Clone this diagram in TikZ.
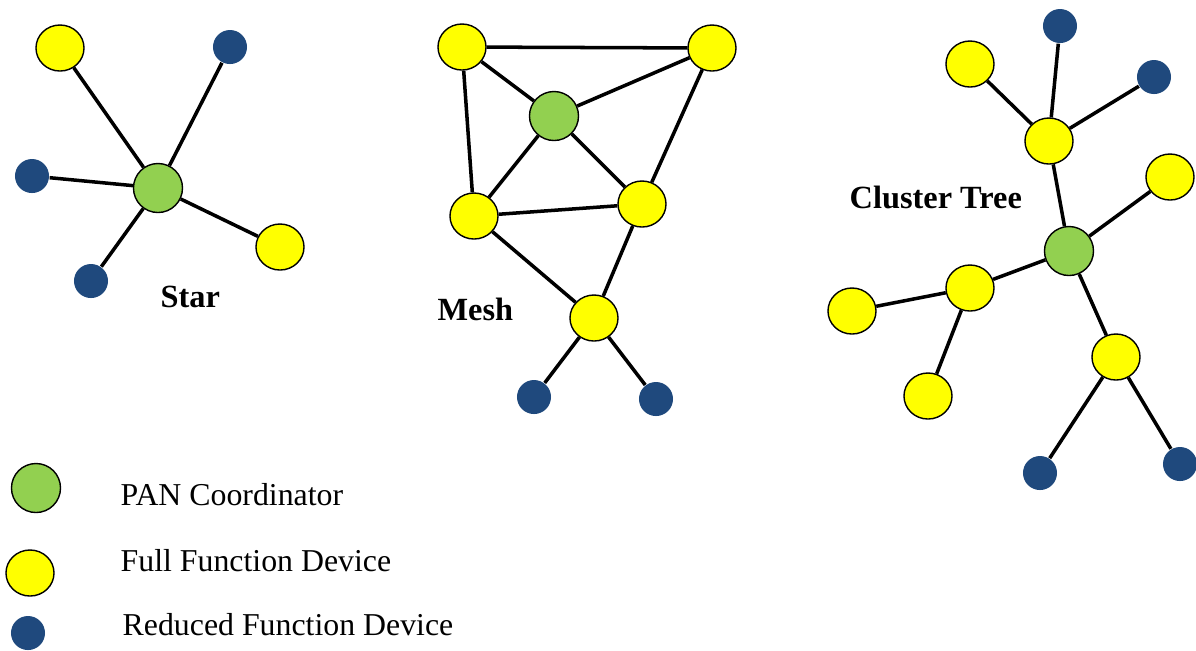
\documentclass[tikz,border=0pt]{standalone}
\usepackage{fontspec}
\setmainfont{Liberation Serif}
\usetikzlibrary{shapes.geometric}

\definecolor{pangreen}{HTML}{92D050}
\definecolor{ffdyellow}{HTML}{FFFF00}
\definecolor{rfdblue}{HTML}{1F497D}

\tikzset{
	pan/.style={circle, draw=black, line width=0.4pt, fill=pangreen, minimum size=0.49cm, inner sep=0pt},
	ffd/.style={ellipse, draw=black, line width=0.4pt, fill=ffdyellow, minimum width=0.48cm, minimum height=0.46cm, inner sep=0pt},
	rfd/.style={circle, fill=rfdblue, minimum size=0.34cm, inner sep=0pt},
	link/.style={black, line width=1pt},
	title/.style={anchor=base west, font=\fontsize{9.2}{11}\selectfont\bfseries, inner sep=0pt},
	legend/.style={anchor=base west, font=\fontsize{9.05}{11}\selectfont, inner sep=0pt}
}

\begin{document}
\begin{tikzpicture}[x=0.01cm, y=-0.01cm]
	\useasboundingbox (0,0) rectangle (1196,650);

	% Звезда
	\node[pan] (S0) at (158,188) {};
	\node[ffd] (S1) at (60,48) {};
	\node[rfd] (S2) at (230,47) {};
	\node[rfd] (S3) at (32,176) {};
	\node[ffd] (S4) at (280,247) {};
	\node[rfd] (S5) at (91,281) {};
	\draw[link] (S0) -- (S1);
	\draw[link] (S0) -- (S2);
	\draw[link] (S0) -- (S3);
	\draw[link] (S0) -- (S4);
	\draw[link] (S0) -- (S5);
	\node[title] (Lstar) at (160,307) {Star};

	% Сетка
	\node[ffd] (M1) at (462,47) {};
	\node[ffd] (M2) at (712,48) {};
	\node[pan] (M0) at (554,116) {};
	\node[ffd] (M3) at (474,216) {};
	\node[ffd] (M4) at (642,204) {};
	\node[ffd] (M5) at (594,318) {};
	\node[rfd] (M6) at (534,397) {};
	\node[rfd] (M7) at (656,399) {};
	\draw[link] (M1) -- (M2);
	\draw[link] (M1) -- (M0);
	\draw[link] (M1) -- (M3);
	\draw[link] (M2) -- (M0);
	\draw[link] (M2) -- (M4);
	\draw[link] (M0) -- (M3);
	\draw[link] (M0) -- (M4);
	\draw[link] (M3) -- (M4);
	\draw[link] (M3) -- (M5);
	\draw[link] (M4) -- (M5);
	\draw[link] (M5) -- (M6);
	\draw[link] (M5) -- (M7);
	\node[title] (Lmesh) at (437,320) {Mesh};

	% Кластерное дерево
	\node[rfd] (T1) at (1060,26) {};
	\node[ffd] (T2) at (970,64) {};
	\node[rfd] (T3) at (1154,77) {};
	\node[ffd] (T4) at (1049,141) {};
	\node[ffd] (T5) at (1170,177) {};
	\node[pan] (T0) at (1069,251) {};
	\node[ffd] (T6) at (970,288) {};
	\node[ffd] (T7) at (852,311) {};
	\node[ffd] (T8) at (928,396) {};
	\node[ffd] (T9) at (1116,357) {};
	\node[rfd] (T10) at (1040,473) {};
	\node[rfd] (T11) at (1180,464) {};
	\draw[link] (T4) -- (T1);
	\draw[link] (T4) -- (T2);
	\draw[link] (T4) -- (T3);
	\draw[link] (T4) -- (T0);
	\draw[link] (T0) -- (T5);
	\draw[link] (T0) -- (T6);
	\draw[link] (T6) -- (T7);
	\draw[link] (T6) -- (T8);
	\draw[link] (T0) -- (T9);
	\draw[link] (T9) -- (T10);
	\draw[link] (T9) -- (T11);
	\node[title] (Ltree) at (849,208) {Cluster Tree};

	% Легенда
	\node[pan] (Kpan) at (36,488) {};
	\node[ffd] (Kffd) at (30,573) {};
	\node[rfd] (Krfd) at (28,633) {};
	\node[legend] (Tpan) at (120,505) {PAN Coordinator};
	\node[legend] (Tffd) at (120,571) {Full Function Device};
	\node[legend] (Trfd) at (122,635) {Reduced Function Device};
\end{tikzpicture}
\end{document}
